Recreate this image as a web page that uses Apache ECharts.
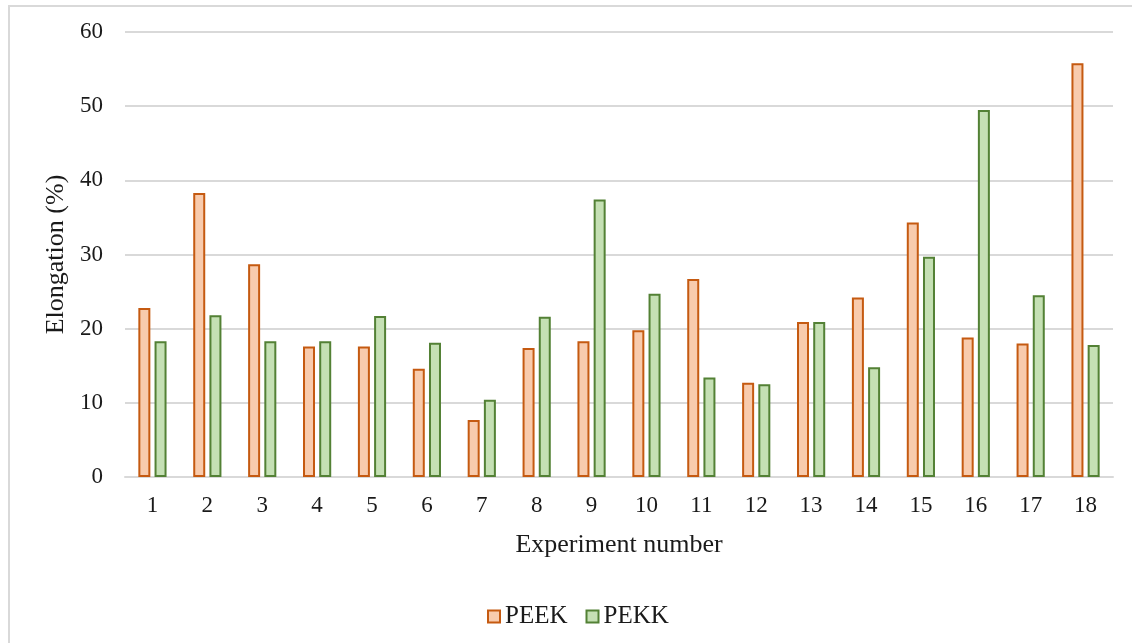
<!DOCTYPE html>
<html>
<head>
<meta charset="utf-8">
<title>Elongation</title>
<script src="https://cdn.jsdelivr.net/npm/echarts@6/dist/echarts.min.js"></script>
<style>
  html, body { margin: 0; padding: 0; background: #fff; }
  #main { width: 1132px; height: 643px; }
</style>
</head>
<body>
<div id="main"></div>
<script>
// data
const experiments = ['1', '2', '3', '4', '5', '6', '7', '8', '9', '10', '11', '12', '13', '14', '15', '16', '17', '18']
const peek = [22.8, 38.3, 28.7, 17.6, 17.6, 14.6, 7.7, 17.4, 18.3, 19.8, 26.7, 12.7, 20.9, 24.2, 34.3, 18.8, 18.0, 55.8]
const pekk = [18.3, 21.8, 18.3, 18.3, 21.7, 18.1, 10.4, 21.6, 37.4, 24.7, 13.4, 12.5, 20.9, 14.8, 29.7, 49.5, 24.5, 17.8]

const font = 'Liberation Serif'
const textColor = '#1a1a1a'
const gridColor = '#d9d9d9'

const chart = echarts.init(document.getElementById('main'))

const option = {
  animation: false,
  textStyle: { fontFamily: font },
  // the light frame round the chart
  graphic: [{
    type: 'rect',
    shape: { x: 9, y: 6, width: 1300, height: 800 },
    style: { fill: 'none', stroke: gridColor, lineWidth: 2 },
    silent: true
  }],
  grid: {
    left: 125,
    right: 19,
    top: 32,
    bottom: 166
  },
  legend: {
    left: 482,
    top: 599,
    itemWidth: 12,
    itemHeight: 12,
    itemGap: 18,
    icon: 'rect',
    textStyle: { fontFamily: font, fontSize: 25, color: textColor },
    data: [
      { name: 'PEEK', itemStyle: { color: '#F8CBAD', borderColor: '#C55A11', borderWidth: 2 } },
      { name: 'PEKK', itemStyle: { color: '#C5E0B4', borderColor: '#538135', borderWidth: 2 } }
    ]
  },
  xAxis: {
    type: 'category',
    data: experiments,
    name: 'Experiment number',
    nameLocation: 'middle',
    nameGap: 55,
    nameTextStyle: { fontFamily: font, fontSize: 26, color: textColor },
    axisTick: { show: false },
    axisLine: { lineStyle: { color: gridColor, width: 2 } },
    axisLabel: { fontFamily: font, fontSize: 23, color: textColor, margin: 17 }
  },
  yAxis: {
    type: 'value',
    min: 0,
    max: 60,
    interval: 10,
    name: 'Elongation (%)',
    nameLocation: 'middle',
    nameGap: 48,
    nameTextStyle: { fontFamily: font, fontSize: 26, color: textColor },
    axisLine: { show: false },
    axisTick: { show: false },
    axisLabel: { fontFamily: font, fontSize: 23, color: textColor, margin: 22 },
    splitLine: { lineStyle: { color: gridColor, width: 2 } }
  },
  series: [
    {
      name: 'PEEK',
      type: 'bar',
      data: peek,
      barWidth: 12,
      barGap: '35%',
      itemStyle: { color: '#F8CBAD', borderColor: '#C55A11', borderWidth: 2 }
    },
    {
      name: 'PEKK',
      type: 'bar',
      data: pekk,
      barWidth: 12,
      barGap: '35%',
      itemStyle: { color: '#C5E0B4', borderColor: '#538135', borderWidth: 2 }
    }
  ]
}

chart.setOption(option)
</script>
</body>
</html>
